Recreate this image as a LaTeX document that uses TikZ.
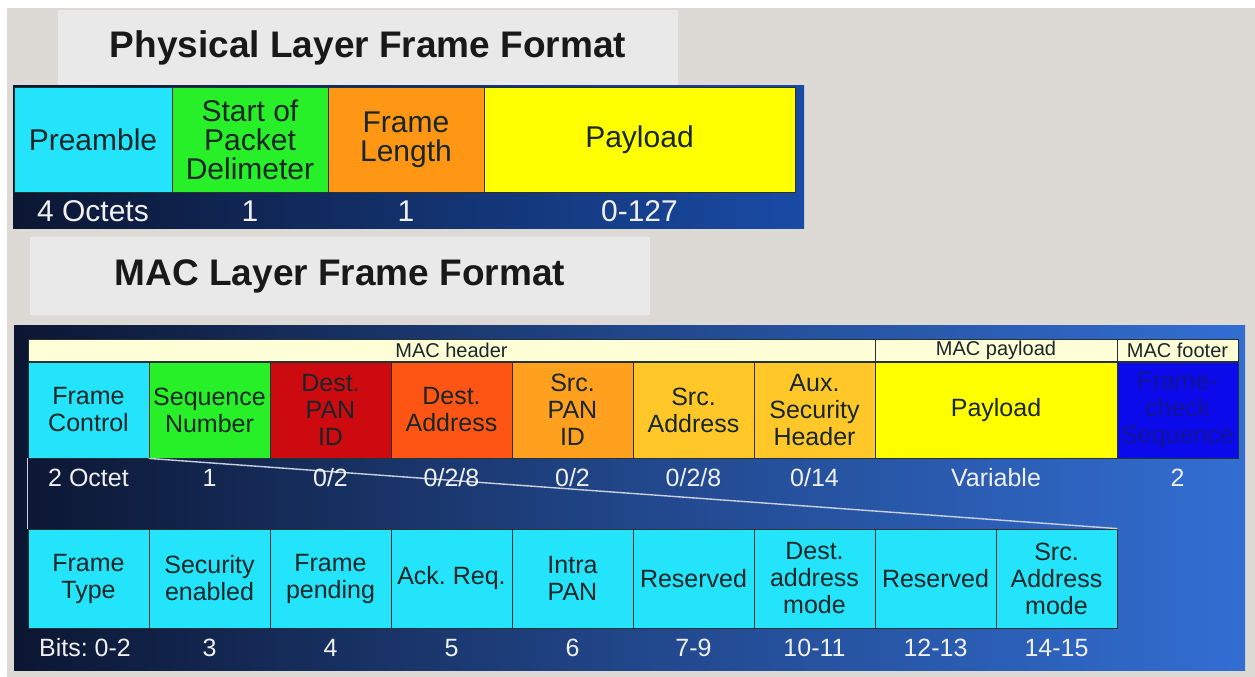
\documentclass[tikz,border=0pt]{standalone}
\usepackage{fontspec}
\setmainfont{Liberation Sans}
\frenchspacing
\definecolor{bgc}{RGB}{221,218,214}
\definecolor{titlebg}{RGB}{233,233,233}
\definecolor{cyanc}{RGB}{35,228,250}
\definecolor{greenc}{RGB}{40,240,40}
\definecolor{orangec}{RGB}{255,150,20}
\definecolor{yellowc}{RGB}{255,255,0}
\definecolor{redc}{RGB}{205,10,15}
\definecolor{orredc}{RGB}{255,85,20}
\definecolor{srcpanc}{RGB}{255,160,30}
\definecolor{goldc}{RGB}{255,200,40}
\definecolor{fcsc}{RGB}{10,10,235}
\definecolor{fcstext}{RGB}{20,20,150}
\definecolor{headbg}{RGB}{255,255,215}
\definecolor{celltext}{RGB}{24,38,40}
\definecolor{cellline}{RGB}{40,50,50}
\definecolor{navy}{RGB}{12,22,50}
\definecolor{brightblue}{RGB}{50,110,210}
\definecolor{midblue}{RGB}{25,75,165}
\definecolor{trapline}{RGB}{200,208,220}
\begin{document}
\begin{tikzpicture}[x=1pt,y=-1pt,
  titlebox/.style={fill=titlebg, inner sep=0, minimum width=620pt, text=black!90,
    font=\fontsize{37}{40}\selectfont\bfseries},
  pcell/.style={draw=cellline, line width=0.8pt, inner sep=0, align=center, text=celltext,
    minimum height=105pt, font=\fontsize{30}{29}\selectfont},
  mcell/.style={draw=cellline, line width=0.8pt, inner sep=0, align=center, text=celltext,
    minimum height=96pt, minimum width=121pt, font=\fontsize{25}{27}\selectfont},
  bcell/.style={mcell, fill=cyanc, minimum height=99pt},
  hcell/.style={draw=cellline, line width=0.8pt, fill=headbg, inner sep=0, text=celltext,
    minimum height=22pt, font=\fontsize{20}{22}\selectfont},
  plabel/.style={text=white!94!black, inner sep=0, font=\fontsize{30}{30}\selectfont},
  mlabel/.style={text=white!94!black, inner sep=0, font=\fontsize{25}{25}\selectfont},
  trap/.style={draw=trapline, line width=1.4pt},
]
\useasboundingbox (0,0) rectangle (1255,677);
\fill[white] (0,0) rectangle (1255,677);
\fill[bgc] (7,8) rectangle (1255,677);

% titles
\node[titlebox, minimum height=75pt] (t1) at (368,47.5) {Physical Layer Frame Format};
\node[titlebox, minimum height=78pt] (t2) at (340,276) {MAC Layer Frame Format};

% physical frame
\node[inner sep=0, minimum width=791pt, minimum height=143pt,
  left color=navy, right color=midblue] (pframe) at (408.5,156.5) {};
\node[pcell, fill=cyanc, minimum width=158pt] (pre) at (93,139.5) {Preamble};
\node[pcell, fill=greenc, minimum width=156pt] (spd) at (250,139.5) {Start of\\Packet\\Delimeter};
\node[pcell, fill=orangec, minimum width=156pt] (fl) at (406,139.5) {Frame\\Length};
\node[pcell, fill=yellowc, minimum width=311pt] (ppay) at (639.5,139.5) {Payload};
\node[plabel] (lpre) at (93,211) {4 Octets};
\node[plabel] (lspd) at (250,211) {1};
\node[plabel] (lfl) at (406,211) {1};
\node[plabel] (lppay) at (639.5,211) {0-127};

% MAC frame
\node[inner sep=0, minimum width=1231pt, minimum height=345pt,
  left color=navy, right color=brightblue, middle color=navy!45!brightblue] (mframe) at (629.5,497.5) {};
\node[hcell, minimum width=847pt] (mh) at (451.5,350) {MAC header};
\node[hcell, minimum width=242pt] (mp) at (996,350) {MAC payload};
\node[hcell, minimum width=121pt] (mf) at (1177.5,350) {MAC footer};

\node[mcell, fill=cyanc] (fc) at (88.5,410) {Frame\\Control};
\node[mcell, fill=greenc] (sn) at (209.5,410) {Sequence\\Number};
\node[mcell, fill=redc] (dpan) at (330.5,410) {Dest.\\PAN\\ID};
\node[mcell, fill=orredc] (dadr) at (451.5,410) {Dest.\\Address};
\node[mcell, fill=srcpanc] (span) at (572.5,410) {Src.\\PAN\\ID};
\node[mcell, fill=goldc] (sadr) at (693.5,410) {Src.\\Address};
\node[mcell, fill=goldc] (aux) at (814.5,410) {Aux.\\Security\\Header};
\node[mcell, fill=yellowc, minimum width=242pt] (mpay) at (996,410) {Payload};
\node[mcell, fill=fcsc, text=fcstext] (fcs) at (1177.5,410) {Frame-\\check\\Sequence};

% bit-field cells
\node[bcell] (bft) at (88.5,578.5) {Frame\\Type};
\node[bcell] (bse) at (209.5,578.5) {Security\\enabled};
\node[bcell] (bfp) at (330.5,578.5) {Frame\\pending};
\node[bcell] (bar) at (451.5,578.5) {Ack. Req.};
\node[bcell] (bip) at (572.5,578.5) {Intra\\PAN};
\node[bcell] (br1) at (693.5,578.5) {Reserved};
\node[bcell] (bdam) at (814.5,578.5) {Dest.\\address\\mode};
\node[bcell] (br2) at (935.5,578.5) {Reserved};
\node[bcell] (bsam) at (1056.5,578.5) {Src.\\Address\\mode};

% trapezoid lines
\draw[trap] (fc.south west) -- (bft.north west);
\draw[trap] (sn.south west) -- (bsam.north east);

% MAC labels
\node[mlabel] (l1) at (88.5,478) {2 Octet};
\node[mlabel] (l2) at (209.5,478) {1};
\node[mlabel] (l3) at (330.5,478) {0/2};
\node[mlabel] (l4) at (451.5,478) {0/2/8};
\node[mlabel] (l5) at (572.5,478) {0/2};
\node[mlabel] (l6) at (693.5,478) {0/2/8};
\node[mlabel] (l7) at (814.5,478) {0/14};
\node[mlabel] (l8) at (996,478) {Variable};
\node[mlabel] (l9) at (1177.5,478) {2};

% bit labels
\node[mlabel] (b1) at (85,648) {Bits: 0-2};
\node[mlabel] (b2) at (209.5,648) {3};
\node[mlabel] (b3) at (330.5,648) {4};
\node[mlabel] (b4) at (451.5,648) {5};
\node[mlabel] (b5) at (572.5,648) {6};
\node[mlabel] (b6) at (693.5,648) {7-9};
\node[mlabel] (b7) at (814.5,648) {10-11};
\node[mlabel] (b8) at (935.5,648) {12-13};
\node[mlabel] (b9) at (1056.5,648) {14-15};
\end{tikzpicture}
\end{document}
